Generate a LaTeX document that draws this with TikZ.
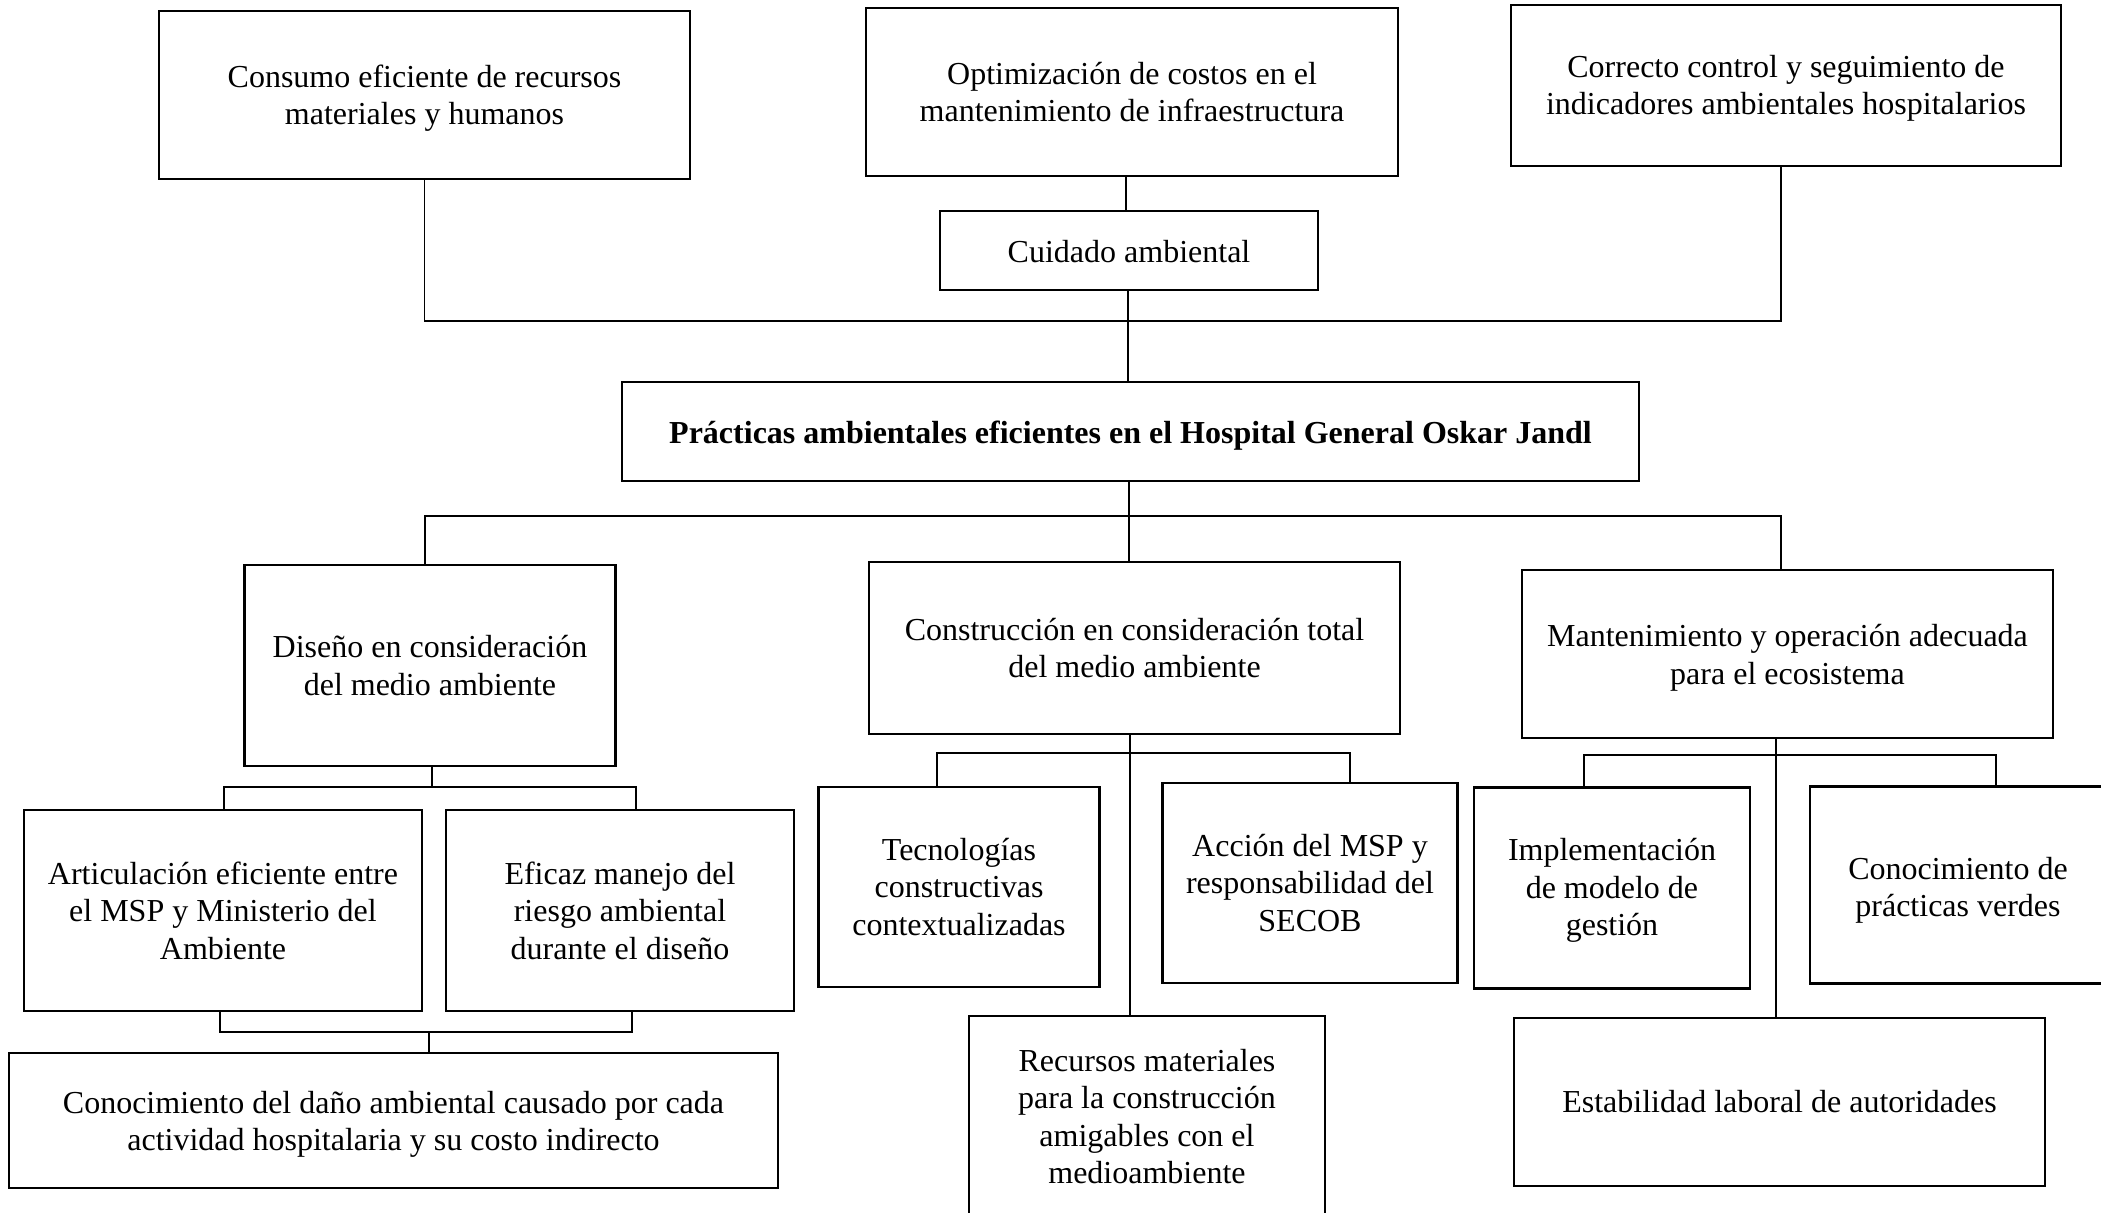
\documentclass[tikz,border=0pt]{standalone}
\usepackage{fontspec}
\setmainfont{Liberation Serif}
\begin{document}
\begin{tikzpicture}[x=0.5pt,y=-0.5pt,
  box/.style={draw, line width=1.4pt, align=center, inner sep=0pt, font=\fontsize{16}{18.75}\selectfont},
  txt/.style={align=center, inner sep=0pt, font=\fontsize{16}{18.75}\selectfont},
  conn/.style={line width=0.65pt}]
\clip (0,0) rectangle (2101,1213);
\fill[white] (0,0) rectangle (2101,1213);

% top row
\node[box, minimum width=265.5pt, minimum height=84pt] (cons) at (424.5,95) {};
\node[txt] (cons-t) at ([yshift=-1.6pt]cons.center) {Consumo eficiente de recursos\\materiales y humanos};
\node[box, minimum width=266pt, minimum height=84pt] (opt) at (1132,92) {Optimización de costos en el\\mantenimiento de infraestructura};
\node[box, minimum width=275pt, minimum height=80.5pt] (corr) at (1786,85.5) {};
\node[txt] (corr-t) at ([yshift=-1.4pt]corr.center) {Correcto control y seguimiento de\\indicadores ambientales hospitalarios};
\node[box, minimum width=189pt, minimum height=39.5pt] (cuid) at (1129,250.5) {};
\node[txt] (cuid-t) at ([yshift=-0.7pt]cuid.center) {Cuidado ambiental};
\node[box, minimum width=508.5pt, minimum height=49.5pt] (prac) at (1130.5,431.5) {};
\node[txt, font=\fontsize{16}{18.75}\selectfont\bfseries] (prac-t) at ([yshift=-2.2pt]prac.center) {Prácticas ambientales eficientes en el Hospital General Oskar Jandl};

% second row
\node[box, minimum width=185.5pt, minimum height=100.5pt] (dis) at (430,665.5) {Diseño en consideración\\del medio ambiente};
\node[box, minimum width=265.5pt, minimum height=86pt] (cons2) at (1134.5,648) {Construcción en consideración total\\del medio ambiente};
\node[box, minimum width=265.5pt, minimum height=84pt] (mant) at (1787.5,654) {};
\node[txt] (mant-t) at ([yshift=-2pt]mant.center) {Mantenimiento y operación adecuada\\para el ecosistema};

% third row
\node[box, minimum width=199pt, minimum height=100.5pt] (art) at (223,910.5) {Articulación eficiente entre\\el MSP y Ministerio del\\Ambiente};
\node[box, minimum width=174pt, minimum height=100.5pt] (efi) at (620,910.5) {Eficaz manejo del\\riesgo ambiental\\durante el diseño};
\node[box, minimum width=140.75pt, minimum height=100pt] (tec) at (959,887) {Tecnologías\\constructivas\\contextualizadas};
\node[box, minimum width=147.25pt, minimum height=100pt] (acc) at (1310,883) {Acción del MSP y\\responsabilidad del\\SECOB};
\node[box, minimum width=138pt, minimum height=100.75pt] (imp) at (1612,888) {};
\node[txt] (imp-t) at ([yshift=-1.3pt]imp.center) {Implementación\\de modelo de\\gestión};
\node[box, minimum width=148pt, minimum height=98.5pt] (verd) at (1958,885) {};
\node[txt] (verd-t) at ([yshift=-2.6pt]verd.center) {Conocimiento de\\prácticas verdes};

% bottom row
\node[box, minimum width=384.5pt, minimum height=67.5pt] (dano) at (393.5,1120.5) {};
\node[txt] (dano-t) at ([yshift=-2pt]dano.center) {Conocimiento del daño ambiental causado por cada\\actividad hospitalaria y su costo indirecto};
\node[box, minimum width=178pt, minimum height=102pt] (rec) at (1147,1118) {};
\node[txt] (rec-t) at ([yshift=0.6pt]rec.center) {Recursos materiales\\para la construcción\\amigables con el\\medioambiente};
\node[box, minimum width=265.5pt, minimum height=84pt] (est) at (1779.5,1102) {Estabilidad laboral de autoridades};

% connectors: top
\coordinate (tr) at (1781,321);
\coordinate (oc) at (1126,0);
\coordinate (pc) at (1128,0);
\draw[conn] (cons.south) |- (tr) -- (tr |- corr.south);
\draw[conn] (opt.south -| oc) -- (cuid.north -| oc);
\draw[conn] (cuid.south -| pc) -- (prac.north -| pc);

% connectors: middle
\coordinate (ml) at (425,516);
\coordinate (mr) at (1781,516);
\coordinate (mc) at (1129,0);
\draw[conn] (dis.north -| ml) |- (mr) -- (mant.north -| mr);
\draw[conn] (prac.south -| mc) -- (cons2.north -| mc);

% connectors: diseno
\coordinate (dl) at (224,787);
\coordinate (dr) at (636,787);
\coordinate (dc) at (432,787);
\draw[conn] (dis.south -| dc) -- (dc);
\draw[conn] (art.north -| dl) |- (dr) -- (efi.north -| dr);
\coordinate (bl) at (220,1032);
\coordinate (br) at (632,1032);
\coordinate (bc) at (429,1032);
\draw[conn] (art.south -| bl) |- (br) -- (efi.south -| br);
\draw[conn] (bc) -- (dano.north -| bc);

% connectors: construccion
\coordinate (cl) at (937,753);
\coordinate (cr) at (1350,753);
\coordinate (cc) at (1130,0);
\draw[conn] (cons2.south -| cc) -- (rec.north -| cc);
\draw[conn] (tec.north -| cl) |- (cr) -- (acc.north -| cr);

% connectors: mantenimiento
\coordinate (al) at (1584,755);
\coordinate (ar) at (1996,755);
\coordinate (ac) at (1776,0);
\draw[conn] (mant.south -| ac) -- (est.north -| ac);
\draw[conn] (imp.north -| al) |- (ar) -- (verd.north -| ar);
\end{tikzpicture}
\end{document}
